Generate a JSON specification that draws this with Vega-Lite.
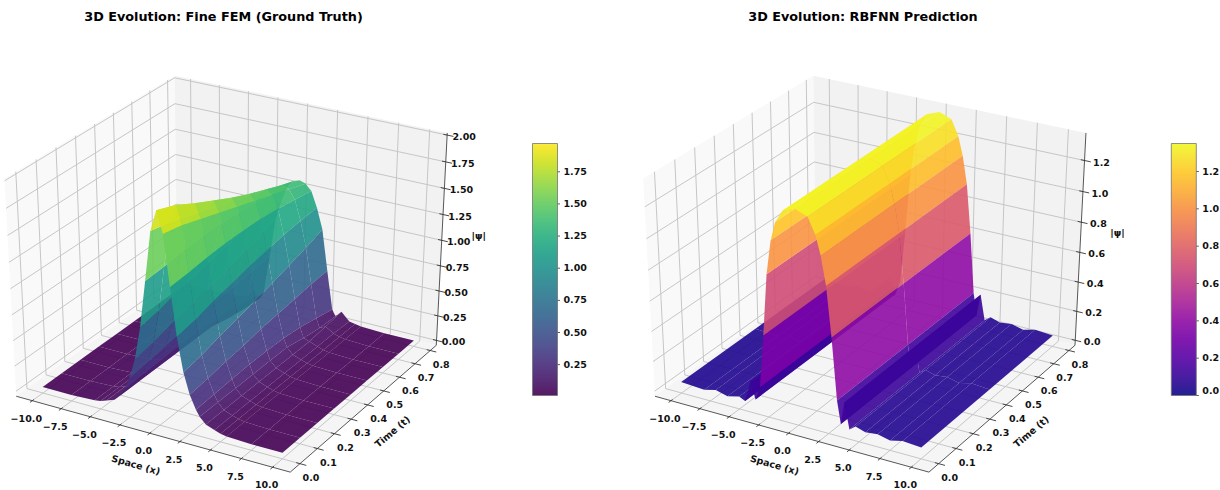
{"$schema":"https://vega.github.io/schema/vega-lite/v6.json","width":1220,"height":490,"padding":0,"autosize":"none","background":"white","config":{"view":{"stroke":null}},
"params":[{"name":"xl","value":-11.4},{"name":"xh","value":11.4},{"name":"tl","value":-0.055},{"name":"th","value":0.84}],
"datasets":{
"frame":[{"p":1,"a":"lwall"},{"p":1,"a":"bwall"},{"p":1,"a":"floor"},{"p":1,"a":"axes"},{"p":2,"a":"lwall"},{"p":2,"a":"bwall"},{"p":2,"a":"floor"},{"p":2,"a":"axes"},
{"p":1,"a":"x","v":-10,"label":"−10.0"},{"p":1,"a":"x","v":-7.5,"label":"−7.5"},{"p":1,"a":"x","v":-5,"label":"−5.0"},{"p":1,"a":"x","v":-2.5,"label":"−2.5"},{"p":1,"a":"x","v":0,"label":"0.0"},{"p":1,"a":"x","v":2.5,"label":"2.5"},{"p":1,"a":"x","v":5,"label":"5.0"},{"p":1,"a":"x","v":7.5,"label":"7.5"},{"p":1,"a":"x","v":10,"label":"10.0"},
{"p":2,"a":"x","v":-10,"label":"−10.0"},{"p":2,"a":"x","v":-7.5,"label":"−7.5"},{"p":2,"a":"x","v":-5,"label":"−5.0"},{"p":2,"a":"x","v":-2.5,"label":"−2.5"},{"p":2,"a":"x","v":0,"label":"0.0"},{"p":2,"a":"x","v":2.5,"label":"2.5"},{"p":2,"a":"x","v":5,"label":"5.0"},{"p":2,"a":"x","v":7.5,"label":"7.5"},{"p":2,"a":"x","v":10,"label":"10.0"},
{"p":1,"a":"t","v":0,"label":"0.0"},{"p":1,"a":"t","v":0.1,"label":"0.1"},{"p":1,"a":"t","v":0.2,"label":"0.2"},{"p":1,"a":"t","v":0.3,"label":"0.3"},{"p":1,"a":"t","v":0.4,"label":"0.4"},{"p":1,"a":"t","v":0.5,"label":"0.5"},{"p":1,"a":"t","v":0.6,"label":"0.6"},{"p":1,"a":"t","v":0.7,"label":"0.7"},{"p":1,"a":"t","v":0.8,"label":"0.8"},
{"p":2,"a":"t","v":0,"label":"0.0"},{"p":2,"a":"t","v":0.1,"label":"0.1"},{"p":2,"a":"t","v":0.2,"label":"0.2"},{"p":2,"a":"t","v":0.3,"label":"0.3"},{"p":2,"a":"t","v":0.4,"label":"0.4"},{"p":2,"a":"t","v":0.5,"label":"0.5"},{"p":2,"a":"t","v":0.6,"label":"0.6"},{"p":2,"a":"t","v":0.7,"label":"0.7"},{"p":2,"a":"t","v":0.8,"label":"0.8"},
{"p":1,"a":"z","v":0,"label":"0.00"},{"p":1,"a":"z","v":0.25,"label":"0.25"},{"p":1,"a":"z","v":0.5,"label":"0.50"},{"p":1,"a":"z","v":0.75,"label":"0.75"},{"p":1,"a":"z","v":1,"label":"1.00"},{"p":1,"a":"z","v":1.25,"label":"1.25"},{"p":1,"a":"z","v":1.5,"label":"1.50"},{"p":1,"a":"z","v":1.75,"label":"1.75"},{"p":1,"a":"z","v":2,"label":"2.00"},
{"p":2,"a":"z","v":0,"label":"0.0"},{"p":2,"a":"z","v":0.2,"label":"0.2"},{"p":2,"a":"z","v":0.4,"label":"0.4"},{"p":2,"a":"z","v":0.6,"label":"0.6"},{"p":2,"a":"z","v":0.8,"label":"0.8"},{"p":2,"a":"z","v":1,"label":"1.0"},{"p":2,"a":"z","v":1.2,"label":"1.2"},
{"p":1,"a":"x","v":0,"label":"Space (x)","title":true},{"p":1,"a":"t","v":0.4,"label":"Time (t)","title":true},{"p":1,"a":"z","v":1,"label":"|ψ|","title":true},
{"p":2,"a":"x","v":0,"label":"Space (x)","title":true},{"p":2,"a":"t","v":0.4,"label":"Time (t)","title":true},{"p":2,"a":"z","v":0.7,"label":"|ψ|","title":true}],
"titles":[{"p":1,"title":"3D Evolution: Fine FEM (Ground Truth)"},{"p":2,"title":"3D Evolution: RBFNN Prediction"}],
"cbar":[{"p":1,"v":0.25},{"p":1,"v":0.5},{"p":1,"v":0.75},{"p":1,"v":1},{"p":1,"v":1.25},{"p":1,"v":1.5},{"p":1,"v":1.75},{"p":2,"v":0},{"p":2,"v":0.2},{"p":2,"v":0.4},{"p":2,"v":0.6},{"p":2,"v":0.8},{"p":2,"v":1},{"p":2,"v":1.2}],
"fem":[
{"k":8,"x":-10,"t":0.8,"z":0.01},{"k":108,"x":-7.5,"t":0.8,"z":0.01},{"k":208,"x":-5.5,"t":0.8,"z":0.02},{"k":308,"x":-5,"t":0.8,"z":0.03},{"k":408,"x":-4.5,"t":0.8,"z":0.04},{"k":508,"x":-3.8,"t":0.8,"z":0.12},{"k":608,"x":-3.3,"t":0.8,"z":0.06},{"k":708,"x":-3,"t":0.8,"z":0.12},{"k":808,"x":-2.5,"t":0.8,"z":0.5},{"k":908,"x":-2,"t":0.8,"z":0.9},{"k":1008,"x":-1.5,"t":0.8,"z":1.1},{"k":1108,"x":-1,"t":0.8,"z":1.25},{"k":1208,"x":-0.5,"t":0.8,"z":1.31},{"k":1308,"x":0,"t":0.8,"z":1.33},{"k":1408,"x":0.5,"t":0.8,"z":1.31},{"k":1508,"x":1,"t":0.8,"z":1.25},{"k":1608,"x":1.5,"t":0.8,"z":1.1},{"k":1708,"x":2,"t":0.8,"z":0.9},{"k":1808,"x":2.5,"t":0.8,"z":0.5},{"k":1908,"x":3,"t":0.8,"z":0.12},{"k":2008,"x":3.3,"t":0.8,"z":0.06},{"k":2108,"x":3.8,"t":0.8,"z":0.12},{"k":2208,"x":4.5,"t":0.8,"z":0.04},{"k":2308,"x":5,"t":0.8,"z":0.03},{"k":2408,"x":5.5,"t":0.8,"z":0.02},{"k":2508,"x":7.5,"t":0.8,"z":0.01},{"k":2608,"x":10,"t":0.8,"z":0.01},
{"k":7,"x":-10,"t":0.7,"z":0.01},{"k":107,"x":-7.5,"t":0.7,"z":0.01},{"k":207,"x":-5.5,"t":0.7,"z":0.02},{"k":307,"x":-5,"t":0.7,"z":0.03},{"k":407,"x":-4.5,"t":0.7,"z":0.05},{"k":507,"x":-3.8,"t":0.7,"z":0.1},{"k":607,"x":-3.3,"t":0.7,"z":0.07},{"k":707,"x":-3,"t":0.7,"z":0.16},{"k":807,"x":-2.5,"t":0.7,"z":0.49},{"k":907,"x":-2,"t":0.7,"z":0.84},{"k":1007,"x":-1.5,"t":0.7,"z":1.09},{"k":1107,"x":-1,"t":0.7,"z":1.28},{"k":1207,"x":-0.5,"t":0.7,"z":1.37},{"k":1307,"x":0,"t":0.7,"z":1.4},{"k":1407,"x":0.5,"t":0.7,"z":1.37},{"k":1507,"x":1,"t":0.7,"z":1.28},{"k":1607,"x":1.5,"t":0.7,"z":1.09},{"k":1707,"x":2,"t":0.7,"z":0.84},{"k":1807,"x":2.5,"t":0.7,"z":0.49},{"k":1907,"x":3,"t":0.7,"z":0.16},{"k":2007,"x":3.3,"t":0.7,"z":0.07},{"k":2107,"x":3.8,"t":0.7,"z":0.1},{"k":2207,"x":4.5,"t":0.7,"z":0.05},{"k":2307,"x":5,"t":0.7,"z":0.03},{"k":2407,"x":5.5,"t":0.7,"z":0.02},{"k":2507,"x":7.5,"t":0.7,"z":0.01},{"k":2607,"x":10,"t":0.7,"z":0.01},
{"k":6,"x":-10,"t":0.6,"z":0.01},{"k":106,"x":-7.5,"t":0.6,"z":0.01},{"k":206,"x":-5.5,"t":0.6,"z":0.02},{"k":306,"x":-5,"t":0.6,"z":0.03},{"k":406,"x":-4.5,"t":0.6,"z":0.05},{"k":506,"x":-3.8,"t":0.6,"z":0.08},{"k":606,"x":-3.3,"t":0.6,"z":0.1},{"k":706,"x":-3,"t":0.6,"z":0.2},{"k":806,"x":-2.5,"t":0.6,"z":0.47},{"k":906,"x":-2,"t":0.6,"z":0.79},{"k":1006,"x":-1.5,"t":0.6,"z":1.07},{"k":1106,"x":-1,"t":0.6,"z":1.31},{"k":1206,"x":-0.5,"t":0.6,"z":1.43},{"k":1306,"x":0,"t":0.6,"z":1.47},{"k":1406,"x":0.5,"t":0.6,"z":1.43},{"k":1506,"x":1,"t":0.6,"z":1.31},{"k":1606,"x":1.5,"t":0.6,"z":1.07},{"k":1706,"x":2,"t":0.6,"z":0.79},{"k":1806,"x":2.5,"t":0.6,"z":0.47},{"k":1906,"x":3,"t":0.6,"z":0.2},{"k":2006,"x":3.3,"t":0.6,"z":0.1},{"k":2106,"x":3.8,"t":0.6,"z":0.08},{"k":2206,"x":4.5,"t":0.6,"z":0.05},{"k":2306,"x":5,"t":0.6,"z":0.03},{"k":2406,"x":5.5,"t":0.6,"z":0.02},{"k":2506,"x":7.5,"t":0.6,"z":0.01},{"k":2606,"x":10,"t":0.6,"z":0.01},
{"k":5,"x":-10,"t":0.5,"z":0.01},{"k":105,"x":-7.5,"t":0.5,"z":0.01},{"k":205,"x":-5.5,"t":0.5,"z":0.02},{"k":305,"x":-5,"t":0.5,"z":0.03},{"k":405,"x":-4.5,"t":0.5,"z":0.05},{"k":505,"x":-3.8,"t":0.5,"z":0.08},{"k":605,"x":-3.3,"t":0.5,"z":0.14},{"k":705,"x":-3,"t":0.5,"z":0.22},{"k":805,"x":-2.5,"t":0.5,"z":0.45},{"k":905,"x":-2,"t":0.5,"z":0.74},{"k":1005,"x":-1.5,"t":0.5,"z":1.04},{"k":1105,"x":-1,"t":0.5,"z":1.33},{"k":1205,"x":-0.5,"t":0.5,"z":1.49},{"k":1305,"x":0,"t":0.5,"z":1.54},{"k":1405,"x":0.5,"t":0.5,"z":1.49},{"k":1505,"x":1,"t":0.5,"z":1.33},{"k":1605,"x":1.5,"t":0.5,"z":1.04},{"k":1705,"x":2,"t":0.5,"z":0.74},{"k":1805,"x":2.5,"t":0.5,"z":0.45},{"k":1905,"x":3,"t":0.5,"z":0.22},{"k":2005,"x":3.3,"t":0.5,"z":0.14},{"k":2105,"x":3.8,"t":0.5,"z":0.08},{"k":2205,"x":4.5,"t":0.5,"z":0.05},{"k":2305,"x":5,"t":0.5,"z":0.03},{"k":2405,"x":5.5,"t":0.5,"z":0.02},{"k":2505,"x":7.5,"t":0.5,"z":0.01},{"k":2605,"x":10,"t":0.5,"z":0.01},
{"k":4,"x":-10,"t":0.4,"z":0.01},{"k":104,"x":-7.5,"t":0.4,"z":0.01},{"k":204,"x":-5.5,"t":0.4,"z":0.02},{"k":304,"x":-5,"t":0.4,"z":0.03},{"k":404,"x":-4.5,"t":0.4,"z":0.05},{"k":504,"x":-3.8,"t":0.4,"z":0.08},{"k":604,"x":-3.3,"t":0.4,"z":0.14},{"k":704,"x":-3,"t":0.4,"z":0.23},{"k":804,"x":-2.5,"t":0.4,"z":0.43},{"k":904,"x":-2,"t":0.4,"z":0.69},{"k":1004,"x":-1.5,"t":0.4,"z":1.01},{"k":1104,"x":-1,"t":0.4,"z":1.34},{"k":1204,"x":-0.5,"t":0.4,"z":1.55},{"k":1304,"x":0,"t":0.4,"z":1.62},{"k":1404,"x":0.5,"t":0.4,"z":1.55},{"k":1504,"x":1,"t":0.4,"z":1.34},{"k":1604,"x":1.5,"t":0.4,"z":1.01},{"k":1704,"x":2,"t":0.4,"z":0.69},{"k":1804,"x":2.5,"t":0.4,"z":0.43},{"k":1904,"x":3,"t":0.4,"z":0.23},{"k":2004,"x":3.3,"t":0.4,"z":0.14},{"k":2104,"x":3.8,"t":0.4,"z":0.08},{"k":2204,"x":4.5,"t":0.4,"z":0.05},{"k":2304,"x":5,"t":0.4,"z":0.03},{"k":2404,"x":5.5,"t":0.4,"z":0.02},{"k":2504,"x":7.5,"t":0.4,"z":0.01},{"k":2604,"x":10,"t":0.4,"z":0.01},
{"k":3,"x":-10,"t":0.3,"z":0.01},{"k":103,"x":-7.5,"t":0.3,"z":0.01},{"k":203,"x":-5.5,"t":0.3,"z":0.02},{"k":303,"x":-5,"t":0.3,"z":0.03},{"k":403,"x":-4.5,"t":0.3,"z":0.05},{"k":503,"x":-3.8,"t":0.3,"z":0.08},{"k":603,"x":-3.3,"t":0.3,"z":0.14},{"k":703,"x":-3,"t":0.3,"z":0.23},{"k":803,"x":-2.5,"t":0.3,"z":0.4},{"k":903,"x":-2,"t":0.3,"z":0.65},{"k":1003,"x":-1.5,"t":0.3,"z":0.97},{"k":1103,"x":-1,"t":0.3,"z":1.34},{"k":1203,"x":-0.5,"t":0.3,"z":1.61},{"k":1303,"x":0,"t":0.3,"z":1.71},{"k":1403,"x":0.5,"t":0.3,"z":1.61},{"k":1503,"x":1,"t":0.3,"z":1.34},{"k":1603,"x":1.5,"t":0.3,"z":0.97},{"k":1703,"x":2,"t":0.3,"z":0.65},{"k":1803,"x":2.5,"t":0.3,"z":0.4},{"k":1903,"x":3,"t":0.3,"z":0.23},{"k":2003,"x":3.3,"t":0.3,"z":0.14},{"k":2103,"x":3.8,"t":0.3,"z":0.08},{"k":2203,"x":4.5,"t":0.3,"z":0.05},{"k":2303,"x":5,"t":0.3,"z":0.03},{"k":2403,"x":5.5,"t":0.3,"z":0.02},{"k":2503,"x":7.5,"t":0.3,"z":0.01},{"k":2603,"x":10,"t":0.3,"z":0.01},
{"k":2,"x":-10,"t":0.2,"z":0.01},{"k":102,"x":-7.5,"t":0.2,"z":0.01},{"k":202,"x":-5.5,"t":0.2,"z":0.02},{"k":302,"x":-5,"t":0.2,"z":0.03},{"k":402,"x":-4.5,"t":0.2,"z":0.05},{"k":502,"x":-3.8,"t":0.2,"z":0.08},{"k":602,"x":-3.3,"t":0.2,"z":0.14},{"k":702,"x":-3,"t":0.2,"z":0.22},{"k":802,"x":-2.5,"t":0.2,"z":0.38},{"k":902,"x":-2,"t":0.2,"z":0.61},{"k":1002,"x":-1.5,"t":0.2,"z":0.93},{"k":1102,"x":-1,"t":0.2,"z":1.33},{"k":1202,"x":-0.5,"t":0.2,"z":1.67},{"k":1302,"x":0,"t":0.2,"z":1.8},{"k":1402,"x":0.5,"t":0.2,"z":1.67},{"k":1502,"x":1,"t":0.2,"z":1.33},{"k":1602,"x":1.5,"t":0.2,"z":0.93},{"k":1702,"x":2,"t":0.2,"z":0.61},{"k":1802,"x":2.5,"t":0.2,"z":0.38},{"k":1902,"x":3,"t":0.2,"z":0.22},{"k":2002,"x":3.3,"t":0.2,"z":0.14},{"k":2102,"x":3.8,"t":0.2,"z":0.08},{"k":2202,"x":4.5,"t":0.2,"z":0.05},{"k":2302,"x":5,"t":0.2,"z":0.03},{"k":2402,"x":5.5,"t":0.2,"z":0.02},{"k":2502,"x":7.5,"t":0.2,"z":0.01},{"k":2602,"x":10,"t":0.2,"z":0.01},
{"k":1,"x":-10,"t":0.1,"z":0.01},{"k":101,"x":-7.5,"t":0.1,"z":0.01},{"k":201,"x":-5.5,"t":0.1,"z":0.02},{"k":301,"x":-5,"t":0.1,"z":0.03},{"k":401,"x":-4.5,"t":0.1,"z":0.05},{"k":501,"x":-3.8,"t":0.1,"z":0.08},{"k":601,"x":-3.3,"t":0.1,"z":0.14},{"k":701,"x":-3,"t":0.1,"z":0.21},{"k":801,"x":-2.5,"t":0.1,"z":0.35},{"k":901,"x":-2,"t":0.1,"z":0.56},{"k":1001,"x":-1.5,"t":0.1,"z":0.88},{"k":1101,"x":-1,"t":0.1,"z":1.31},{"k":1201,"x":-0.5,"t":0.1,"z":1.73},{"k":1301,"x":0,"t":0.1,"z":1.9},{"k":1401,"x":0.5,"t":0.1,"z":1.73},{"k":1501,"x":1,"t":0.1,"z":1.31},{"k":1601,"x":1.5,"t":0.1,"z":0.88},{"k":1701,"x":2,"t":0.1,"z":0.56},{"k":1801,"x":2.5,"t":0.1,"z":0.35},{"k":1901,"x":3,"t":0.1,"z":0.21},{"k":2001,"x":3.3,"t":0.1,"z":0.14},{"k":2101,"x":3.8,"t":0.1,"z":0.08},{"k":2201,"x":4.5,"t":0.1,"z":0.05},{"k":2301,"x":5,"t":0.1,"z":0.03},{"k":2401,"x":5.5,"t":0.1,"z":0.02},{"k":2501,"x":7.5,"t":0.1,"z":0.01},{"k":2601,"x":10,"t":0.1,"z":0.01},
{"k":0,"x":-10,"t":0,"z":0.01},{"k":100,"x":-7.5,"t":0,"z":0.01},{"k":200,"x":-5.5,"t":0,"z":0.02},{"k":300,"x":-5,"t":0,"z":0.03},{"k":400,"x":-4.5,"t":0,"z":0.05},{"k":500,"x":-3.8,"t":0,"z":0.08},{"k":600,"x":-3.3,"t":0,"z":0.14},{"k":700,"x":-3,"t":0,"z":0.2},{"k":800,"x":-2.5,"t":0,"z":0.33},{"k":900,"x":-2,"t":0,"z":0.53},{"k":1000,"x":-1.5,"t":0,"z":0.85},{"k":1100,"x":-1,"t":0,"z":1.3},{"k":1200,"x":-0.5,"t":0,"z":1.77},{"k":1300,"x":0,"t":0,"z":1.97},{"k":1400,"x":0.5,"t":0,"z":1.77},{"k":1500,"x":1,"t":0,"z":1.3},{"k":1600,"x":1.5,"t":0,"z":0.85},{"k":1700,"x":2,"t":0,"z":0.53},{"k":1800,"x":2.5,"t":0,"z":0.33},{"k":1900,"x":3,"t":0,"z":0.2},{"k":2000,"x":3.3,"t":0,"z":0.14},{"k":2100,"x":3.8,"t":0,"z":0.08},{"k":2200,"x":4.5,"t":0,"z":0.05},{"k":2300,"x":5,"t":0,"z":0.03},{"k":2400,"x":5.5,"t":0,"z":0.02},{"k":2500,"x":7.5,"t":0,"z":0.01},{"k":2600,"x":10,"t":0,"z":0.01}
],
"rbf":[
{"k":2,"x":-10,"t":0.8,"z":0.04},{"k":102,"x":-8,"t":0.8,"z":0.03},{"k":202,"x":-7,"t":0.8,"z":0.05},{"k":302,"x":-6,"t":0.8,"z":0.03},{"k":402,"x":-5,"t":0.8,"z":0.05},{"k":502,"x":-4.5,"t":0.8,"z":0.03},{"k":602,"x":-4,"t":0.8,"z":0.17},{"k":702,"x":-3.6,"t":0.8,"z":0.06},{"k":802,"x":-3.2,"t":0.8,"z":0.15},{"k":902,"x":-2.8,"t":0.8,"z":0.5},{"k":1002,"x":-2.4,"t":0.8,"z":0.9},{"k":1102,"x":-2,"t":0.8,"z":1.12},{"k":1202,"x":-1.6,"t":0.8,"z":1.24},{"k":1302,"x":-1,"t":0.8,"z":1.32},{"k":1402,"x":0,"t":0.8,"z":1.35},{"k":1502,"x":1,"t":0.8,"z":1.32},{"k":1602,"x":1.6,"t":0.8,"z":1.22},{"k":1702,"x":2,"t":0.8,"z":1.1},{"k":1802,"x":2.4,"t":0.8,"z":0.92},{"k":1902,"x":2.8,"t":0.8,"z":0.6},{"k":2002,"x":3.2,"t":0.8,"z":0.2},{"k":2102,"x":3.5,"t":0.8,"z":0.05},{"k":2202,"x":3.8,"t":0.8,"z":0.2},{"k":2302,"x":4.2,"t":0.8,"z":0.03},{"k":2402,"x":4.7,"t":0.8,"z":0.06},{"k":2502,"x":5.5,"t":0.8,"z":0.04},{"k":2602,"x":6.5,"t":0.8,"z":0.05},{"k":2702,"x":7.5,"t":0.8,"z":0.03},{"k":2802,"x":8.5,"t":0.8,"z":0.05},{"k":2902,"x":10,"t":0.8,"z":0.04},
{"k":1,"x":-10,"t":0.4,"z":0.04},{"k":101,"x":-8,"t":0.4,"z":0.03},{"k":201,"x":-7,"t":0.4,"z":0.05},{"k":301,"x":-6,"t":0.4,"z":0.03},{"k":401,"x":-5,"t":0.4,"z":0.05},{"k":501,"x":-4.5,"t":0.4,"z":0.03},{"k":601,"x":-4,"t":0.4,"z":0.17},{"k":701,"x":-3.6,"t":0.4,"z":0.06},{"k":801,"x":-3.2,"t":0.4,"z":0.15},{"k":901,"x":-2.8,"t":0.4,"z":0.5},{"k":1001,"x":-2.4,"t":0.4,"z":0.9},{"k":1101,"x":-2,"t":0.4,"z":1.12},{"k":1201,"x":-1.6,"t":0.4,"z":1.24},{"k":1301,"x":-1,"t":0.4,"z":1.32},{"k":1401,"x":0,"t":0.4,"z":1.35},{"k":1501,"x":1,"t":0.4,"z":1.32},{"k":1601,"x":1.6,"t":0.4,"z":1.22},{"k":1701,"x":2,"t":0.4,"z":1.1},{"k":1801,"x":2.4,"t":0.4,"z":0.92},{"k":1901,"x":2.8,"t":0.4,"z":0.6},{"k":2001,"x":3.2,"t":0.4,"z":0.2},{"k":2101,"x":3.5,"t":0.4,"z":0.05},{"k":2201,"x":3.8,"t":0.4,"z":0.2},{"k":2301,"x":4.2,"t":0.4,"z":0.03},{"k":2401,"x":4.7,"t":0.4,"z":0.06},{"k":2501,"x":5.5,"t":0.4,"z":0.04},{"k":2601,"x":6.5,"t":0.4,"z":0.05},{"k":2701,"x":7.5,"t":0.4,"z":0.03},{"k":2801,"x":8.5,"t":0.4,"z":0.05},{"k":2901,"x":10,"t":0.4,"z":0.04},
{"k":0,"x":-10,"t":0,"z":0.04},{"k":100,"x":-8,"t":0,"z":0.03},{"k":200,"x":-7,"t":0,"z":0.05},{"k":300,"x":-6,"t":0,"z":0.03},{"k":400,"x":-5,"t":0,"z":0.05},{"k":500,"x":-4.5,"t":0,"z":0.03},{"k":600,"x":-4,"t":0,"z":0.17},{"k":700,"x":-3.6,"t":0,"z":0.06},{"k":800,"x":-3.2,"t":0,"z":0.15},{"k":900,"x":-2.8,"t":0,"z":0.5},{"k":1000,"x":-2.4,"t":0,"z":0.9},{"k":1100,"x":-2,"t":0,"z":1.12},{"k":1200,"x":-1.6,"t":0,"z":1.24},{"k":1300,"x":-1,"t":0,"z":1.32},{"k":1400,"x":0,"t":0,"z":1.35},{"k":1500,"x":1,"t":0,"z":1.32},{"k":1600,"x":1.6,"t":0,"z":1.22},{"k":1700,"x":2,"t":0,"z":1.1},{"k":1800,"x":2.4,"t":0,"z":0.92},{"k":1900,"x":2.8,"t":0,"z":0.6},{"k":2000,"x":3.2,"t":0,"z":0.2},{"k":2100,"x":3.5,"t":0,"z":0.05},{"k":2200,"x":3.8,"t":0,"z":0.2},{"k":2300,"x":4.2,"t":0,"z":0.03},{"k":2400,"x":4.7,"t":0,"z":0.06},{"k":2500,"x":5.5,"t":0,"z":0.04},{"k":2600,"x":6.5,"t":0,"z":0.05},{"k":2700,"x":7.5,"t":0,"z":0.03},{"k":2800,"x":8.5,"t":0,"z":0.05},{"k":2900,"x":10,"t":0,"z":0.04}
]},
"encoding":{"x":{"field":"sx","type":"quantitative","scale":{"domain":[0,1220],"range":[0,1220]},"axis":null},"y":{"field":"sy","type":"quantitative","scale":{"domain":[0,490],"range":[0,490]},"axis":null}},
"layer":[
{"data":{"name":"frame"},"transform":[
{"calculate":"datum.a=='x'||datum.a=='t'||datum.a=='z'","as":"isTick"},
{"calculate":"datum.p==1?-0.05:-0.035","as":"zl"},{"calculate":"datum.p==1?2.02:1.375","as":"zh"},
{"calculate":"datum.a=='x'?[datum.v,datum.v,datum.v,datum.v,datum.v,datum.v]:datum.a=='t'?[xh,xl,xl,xh-0.3,xh+0.5,xh]:datum.a=='z'?[xl,xl,xh,xh-0.3,xh+0.5,xh]:datum.a=='lwall'?[xl,xl,xl,xl]:datum.a=='axes'?[xl,xh,xh,xh]:[xl,xh,xh,xl]","as":"xs"},
{"calculate":"datum.a=='x'?[tl,th,th,tl-0.012,tl+0.008,tl]:datum.a=='t'?[datum.v,datum.v,datum.v,datum.v,datum.v,datum.v]:datum.a=='z'?[tl,th,th,th,th,th]:datum.a=='lwall'?[tl,th,th,tl]:datum.a=='bwall'?[th,th,th,th]:[tl,tl,th,th]","as":"ts"},
{"calculate":"datum.a=='z'?[datum.v,datum.v,datum.v,datum.v,datum.v,datum.v]:datum.isTick?[datum.zl,datum.zl,datum.zh,datum.zl,datum.zl,datum.zl]:datum.a=='floor'?[datum.zl,datum.zl,datum.zl,datum.zl]:datum.a=='axes'?[datum.zl,datum.zl,datum.zl,datum.zh]:[datum.zl,datum.zl,datum.zh,datum.zh]","as":"zs"},
{"calculate":"datum.isTick?['g','g','g','t','t','l']:['s','s','s','s']","as":"ps"},
{"calculate":"datum.isTick?[0,1,2,0,1,0]:[0,1,2,3]","as":"os"},
{"flatten":["xs","ts","zs","ps","os"],"as":["X","T","Z","part","o"]},
{"calculate":"1.143*((datum.X-xl)/(xh-xl)-0.5)","as":"PX"},{"calculate":"1.143*((datum.T-tl)/(th-tl)-0.5)","as":"PY"},{"calculate":"-0.4286+1.05*(datum.Z-datum.zl)/(datum.zh-datum.zl)","as":"PZ"},
{"calculate":"10-0.433*datum.PX+0.75*datum.PY-0.5*datum.PZ","as":"d"},
{"calculate":"(datum.p==1?230:868.7)+2747*(0.866*datum.PX+0.5*datum.PY)/datum.d","as":"sx"},
{"calculate":"285.3-2340*(-0.25*datum.PX+0.433*datum.PY+0.866*datum.PZ)/datum.d","as":"sy"},
{"calculate":"'g'+datum.p+datum.a+datum.v+datum.part","as":"id"},
{"calculate":"datum.a=='lwall'?'#f9f9f9':datum.a=='bwall'?'#f2f2f2':'#f5f5f5'","as":"shade"},
{"calculate":"datum.sx+(datum.title?(datum.a=='x'?-14:datum.a=='t'?25:37):(datum.a=='x'?-6:datum.a=='t'?11:17))","as":"lx"},
{"calculate":"datum.sy+(datum.title?(datum.a=='x'?32:datum.a=='t'?27:-4):(datum.a=='x'?18:datum.a=='t'?14:2))","as":"ly"},
{"calculate":"datum.title?(datum.a=='x'?16:datum.a=='t'?-40:0):0","as":"ang"}
],"layer":[
{"transform":[{"filter":"datum.part=='s'&&datum.a!='axes'"}],"mark":{"type":"line","filled":true},"encoding":{"order":{"field":"o","type":"quantitative"},"detail":{"field":"id","type":"nominal"},"color":{"field":"shade","type":"nominal","scale":null,"legend":null}}},
{"transform":[{"filter":"datum.part=='g'&&!datum.title"}],"mark":{"type":"line","stroke":"#c6c6c6","strokeWidth":1},"encoding":{"order":{"field":"o","type":"quantitative"},"detail":{"field":"id","type":"nominal"}}},
{"transform":[{"filter":"datum.a=='axes'"}],"mark":{"type":"line","stroke":"#444444","strokeWidth":0.9},"encoding":{"order":{"field":"o","type":"quantitative"},"detail":{"field":"id","type":"nominal"}}},
{"transform":[{"filter":"datum.part=='t'&&!datum.title"}],"mark":{"type":"line","stroke":"#333333","strokeWidth":0.9},"encoding":{"order":{"field":"o","type":"quantitative"},"detail":{"field":"id","type":"nominal"}}},
{"transform":[{"filter":"datum.part=='l'"}],"mark":{"type":"text","font":"DejaVu Sans","fontWeight":"bold","fontSize":9.5,"fill":"#111111","align":"center","baseline":"middle"},"encoding":{"x":{"field":"lx","type":"quantitative"},"y":{"field":"ly","type":"quantitative"},"text":{"field":"label","type":"nominal"},"angle":{"field":"ang","type":"quantitative","scale":null}}}
]},
{"data":{"name":"fem"},"transform":[
{"calculate":"1","as":"p"},{"calculate":"-0.05","as":"zl"},{"calculate":"2.02","as":"zh"},
{"calculate":"datum.k+100","as":"k1"},{"calculate":"datum.k+1","as":"k2"},{"calculate":"datum.k+101","as":"k3"},
{"lookup":"k1","from":{"data":{"name":"fem"},"key":"k","fields":["x","z"]},"as":["x1","z1"]},
{"lookup":"k2","from":{"data":{"name":"fem"},"key":"k","fields":["t","z"]},"as":["t2","z2"]},
{"lookup":"k3","from":{"data":{"name":"fem"},"key":"k","fields":["z"]},"as":["z3"]},
{"filter":"isValid(datum.z1)&&isValid(datum.z2)&&isValid(datum.z3)"},
{"calculate":"(datum.z+datum.z1+datum.z2+datum.z3)/4","as":"c"},
{"calculate":"[datum.x,datum.x1,datum.x1,datum.x]","as":"xs"},{"calculate":"[datum.t,datum.t,datum.t2,datum.t2]","as":"ts"},{"calculate":"[datum.z,datum.z1,datum.z3,datum.z2]","as":"zs"},{"calculate":"[0,1,2,3]","as":"os"},
{"flatten":["xs","ts","zs","os"],"as":["X","T","Z","o"]},
{"calculate":"1.143*((datum.X-xl)/(xh-xl)-0.5)","as":"PX"},{"calculate":"1.143*((datum.T-tl)/(th-tl)-0.5)","as":"PY"},{"calculate":"-0.4286+1.05*(datum.Z-datum.zl)/(datum.zh-datum.zl)","as":"PZ"},
{"calculate":"10-0.433*datum.PX+0.75*datum.PY-0.5*datum.PZ","as":"d"},
{"calculate":"230+2747*(0.866*datum.PX+0.5*datum.PY)/datum.d","as":"sx"},
{"calculate":"285.3-2340*(-0.25*datum.PX+0.433*datum.PY+0.866*datum.PZ)/datum.d","as":"sy"},
{"calculate":"'c'+datum.k","as":"id"}
],"mark":{"type":"line","filled":true,"opacity":0.9},"encoding":{"order":{"field":"o","type":"quantitative"},"detail":{"field":"id","type":"nominal"},"color":{"field":"c","type":"quantitative","scale":{"scheme":"viridis","domain":[0.01,1.97]},"legend":{"orient":"none","legendX":532.5,"legendY":143.5,"direction":"vertical","gradientLength":252,"gradientThickness":25,"title":null,"values":[0.25,0.5,0.75,1,1.25,1.5,1.75],"format":".2f","labelFont":"DejaVu Sans","labelFontWeight":"bold","labelFontSize":9.5,"labelColor":"#111111","labelOffset":6,"gradientStrokeColor":"#666666","gradientStrokeWidth":0.8,"gradientOpacity":0.9}}}},
{"data":{"name":"rbf"},"transform":[
{"calculate":"2","as":"p"},{"calculate":"-0.035","as":"zl"},{"calculate":"1.375","as":"zh"},
{"calculate":"datum.k+100","as":"k1"},{"calculate":"datum.k+1","as":"k2"},{"calculate":"datum.k+101","as":"k3"},
{"lookup":"k1","from":{"data":{"name":"rbf"},"key":"k","fields":["x","z"]},"as":["x1","z1"]},
{"lookup":"k2","from":{"data":{"name":"rbf"},"key":"k","fields":["t","z"]},"as":["t2","z2"]},
{"lookup":"k3","from":{"data":{"name":"rbf"},"key":"k","fields":["z"]},"as":["z3"]},
{"filter":"isValid(datum.z1)&&isValid(datum.z2)&&isValid(datum.z3)"},
{"calculate":"(datum.z+datum.z1+datum.z2+datum.z3)/4","as":"c"},
{"calculate":"[datum.x,datum.x1,datum.x1,datum.x]","as":"xs"},{"calculate":"[datum.t,datum.t,datum.t2,datum.t2]","as":"ts"},{"calculate":"[datum.z,datum.z1,datum.z3,datum.z2]","as":"zs"},{"calculate":"[0,1,2,3]","as":"os"},
{"flatten":["xs","ts","zs","os"],"as":["X","T","Z","o"]},
{"calculate":"1.143*((datum.X-xl)/(xh-xl)-0.5)","as":"PX"},{"calculate":"1.143*((datum.T-tl)/(th-tl)-0.5)","as":"PY"},{"calculate":"-0.4286+1.05*(datum.Z-datum.zl)/(datum.zh-datum.zl)","as":"PZ"},
{"calculate":"10-0.433*datum.PX+0.75*datum.PY-0.5*datum.PZ","as":"d"},
{"calculate":"868.7+2747*(0.866*datum.PX+0.5*datum.PY)/datum.d","as":"sx"},
{"calculate":"285.3-2340*(-0.25*datum.PX+0.433*datum.PY+0.866*datum.PZ)/datum.d","as":"sy"},
{"calculate":"'c'+datum.k","as":"id"}
],"mark":{"type":"line","filled":true,"opacity":0.9},"encoding":{"order":{"field":"o","type":"quantitative"},"detail":{"field":"id","type":"nominal"},"color":{"field":"c","type":"quantitative","scale":{"scheme":"plasma","domain":[0,1.35]},"legend":{"orient":"none","legendX":1171.3,"legendY":143.5,"direction":"vertical","gradientLength":252,"gradientThickness":25,"title":null,"values":[0,0.2,0.4,0.6,0.8,1,1.2],"format":".1f","labelFont":"DejaVu Sans","labelFontWeight":"bold","labelFontSize":9.5,"labelColor":"#111111","labelOffset":6,"gradientStrokeColor":"#666666","gradientStrokeWidth":0.8,"gradientOpacity":0.9}}}},
{"data":{"name":"cbar"},"transform":[
{"calculate":"datum.p==1?557.5:1196.3","as":"bx"},{"calculate":"datum.bx+2.5","as":"bx2"},
{"calculate":"395.5-252*(datum.p==1?(datum.v-0.01)/1.96:datum.v/1.35)","as":"by"}
],"mark":{"type":"rule","stroke":"#333333","strokeWidth":0.8},"encoding":{"x":{"field":"bx","type":"quantitative"},"x2":{"field":"bx2"},"y":{"field":"by","type":"quantitative"}}},
{"data":{"name":"titles"},"transform":[{"calculate":"datum.p==1?223.5:863","as":"tx"},{"calculate":"17","as":"ty"}],"mark":{"type":"text","font":"DejaVu Sans","fontWeight":"bold","fontSize":12.8,"fill":"#000000","align":"center","baseline":"middle"},"encoding":{"x":{"field":"tx","type":"quantitative"},"y":{"field":"ty","type":"quantitative"},"text":{"field":"title","type":"nominal"}}}
],
"resolve":{"scale":{"color":"independent"}}}
